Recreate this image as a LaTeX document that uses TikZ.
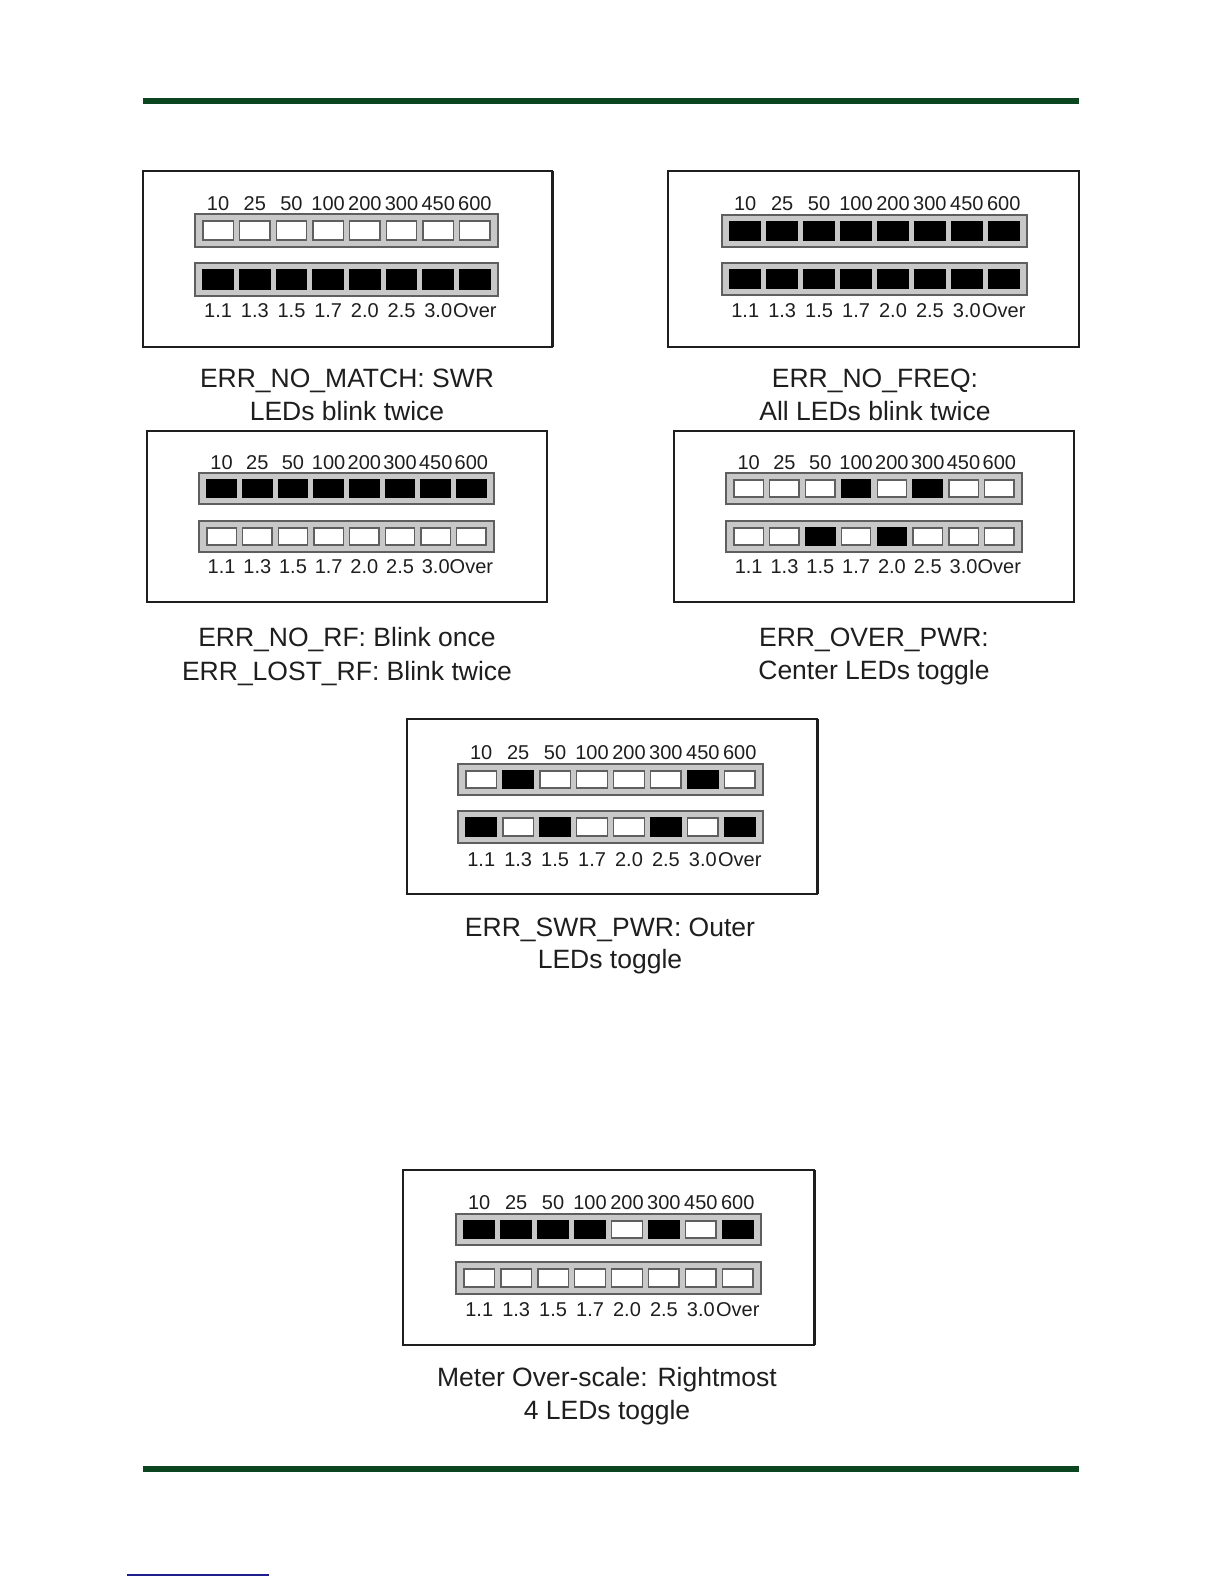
\documentclass[tikz,border=0pt]{standalone}
\usepackage{fontspec}
\setmainfont{Liberation Sans}
\definecolor{hdrgreen}{RGB}{12,70,33}
\definecolor{linkblue}{RGB}{30,30,140}
\definecolor{stripgray}{RGB}{200,200,200}
\definecolor{edgegray}{RGB}{95,95,95}
\definecolor{inkgray}{RGB}{30,30,30}
\tikzset{
  panelbox/.style={draw=inkgray, line width=1.5pt, fill=white, inner sep=0pt, outer sep=0pt},
  shadowedge/.style={draw=inkgray, line width=3pt},
  stripbox/.style={draw=edgegray, fill=stripgray, line width=1.5pt, inner sep=0pt, outer sep=0pt},
  ledbox/.style={draw=edgegray, line width=1.3pt, inner sep=0pt, outer sep=0pt},
  ledstate/.code={\ifnum#1=1 \pgfkeysalso{fill=black,draw=black}\else\pgfkeysalso{fill=white}\fi},
  scalelab/.style={font=\fontsize{20}{22}\selectfont, inner sep=0pt, anchor=base, text=inkgray},
  captext/.style={font=\fontsize{26.5}{32}\selectfont, inner sep=0pt, anchor=base, text=inkgray},
  hdrrule/.style={draw=hdrgreen, line width=6pt},
  linkrule/.style={draw=linkblue, line width=1.5pt}
}
\newcommand\panelframe[5]{%
  \node[panelbox, minimum width={#4-#2}, minimum height={#5-#3}] (#1) at ({(#2+#4)/2},{(#3+#5)/2}) {};
}
\newcommand\ledstrip[6]{%
  \pgfmathsetmacro\ledpitch{(#3-#2-9.5)/8}
  \pgfmathsetmacro\ledw{\ledpitch-6.5}
  \pgfmathsetmacro\ledh{#5-#4-14}
  \node[stripbox, minimum width={#3-#2}, minimum height={#5-#4}] (#1) at ({(#2+#3)/2},{(#4+#5)/2}) {};
  \foreach \s [count=\i] in {#6} {
    \node[ledbox, ledstate=\s, minimum width=\ledw, minimum height=\ledh] (#1\i) at ({#2+8+(\i-1)*\ledpitch+\ledw/2},{(#4+#5)/2}) {};
  }
}
\newcommand\toplabels[2]{%
  \foreach \t [count=\i] in {10,25,50,100,200,300,450,600} {
    \node[scalelab] (#1lab\i) at (#1\i |- 0,#2) {\t};
  }
}
\newcommand\botlabels[2]{%
  \foreach \t [count=\i] in {1.1,1.3,1.5,1.7,2.0,2.5,3.0,Over} {
    \node[scalelab] (#1lab\i) at (#1\i |- 0,#2) {\t};
  }
}
\begin{document}
\begin{tikzpicture}[x=1pt,y=-1pt]
\useasboundingbox (0,0) rectangle (1224,1584);
\fill[white] (0,0) rectangle (1224,1584);

% header / footer rules
\coordinate (hdrL) at (143,101);
\coordinate (hdrR) at (1079,101);
\draw[hdrrule] (hdrL) -- (hdrR);
\coordinate (ftrL) at (143,1469);
\coordinate (ftrR) at (1079,1469);
\draw[hdrrule] (ftrL) -- (ftrR);
\coordinate (lnkL) at (127,1575);
\coordinate (lnkR) at (269,1575);
\draw[linkrule] (lnkL) -- (lnkR);

% Panel 1
\panelframe{pa}{143}{171}{552}{347}
\draw[shadowedge] (pa.north east) -- (pa.south east);
\ledstrip{pat}{195}{498}{214}{247}{0,0,0,0,0,0,0,0}
\ledstrip{pab}{195}{498}{263}{296}{1,1,1,1,1,1,1,1}
\toplabels{pat}{210}
\botlabels{pab}{317}
\node[captext] (pac1) at (347,387) {ERR\_NO\_MATCH: SWR};
\node[captext] (pac2) at (347,420) {LEDs blink twice};

% Panel 2
\panelframe{pb}{668}{171}{1079}{347}
\ledstrip{pbt}{722}{1027}{215}{247}{1,1,1,1,1,1,1,1}
\ledstrip{pbb}{722}{1027}{263}{295}{1,1,1,1,1,1,1,1}
\toplabels{pbt}{210}
\botlabels{pbb}{317}
\node[captext] (pbc1) at (875,387) {ERR\_NO\_FREQ:};
\node[captext] (pbc2) at (875,420) {All LEDs blink twice};

% Panel 3
\panelframe{pc}{147}{431}{547}{602}
\ledstrip{pct}{199}{494}{473}{504}{1,1,1,1,1,1,1,1}
\ledstrip{pcb}{199}{494}{521}{552}{0,0,0,0,0,0,0,0}
\toplabels{pct}{469}
\botlabels{pcb}{573}
\node[captext] (pcc1) at (347,646) {ERR\_NO\_RF: Blink once};
\node[captext] (pcc2) at (347,680) {ERR\_LOST\_RF: Blink twice};

% Panel 4
\panelframe{pd}{674}{431}{1074}{602}
\ledstrip{pdt}{726}{1022}{473}{504}{0,0,0,1,0,1,0,0}
\ledstrip{pdb}{726}{1022}{521}{552}{0,0,1,0,1,0,0,0}
\toplabels{pdt}{469}
\botlabels{pdb}{573}
\node[captext] (pdc1) at (874,646) {ERR\_OVER\_PWR:};
\node[captext] (pdc2) at (874,679) {Center LEDs toggle};

% Panel 5
\panelframe{pe}{407}{719}{817}{894}
\draw[shadowedge] (pe.north east) -- (pe.south east);
\ledstrip{pet}{458}{763}{764}{795}{0,1,0,0,0,0,1,0}
\ledstrip{peb}{458}{763}{811}{843}{1,0,1,0,0,1,0,1}
\toplabels{pet}{759}
\botlabels{peb}{866}
\node[captext] (pec1) at (610,936) {ERR\_SWR\_PWR: Outer};
\node[captext] (pec2) at (610,968) {LEDs toggle};

% Panel 6
\panelframe{pf}{403}{1170}{814}{1345}
\draw[shadowedge] (pf.north east) -- (pf.south east);
\ledstrip{pft}{456}{761}{1214}{1245}{1,1,1,1,0,1,0,1}
\ledstrip{pfb}{456}{761}{1262}{1294}{0,0,0,0,0,0,0,0}
\toplabels{pft}{1209}
\botlabels{pfb}{1316}
\node[captext] (pfc1) at (607,1386) {Meter Over-scale: Rightmost};
\node[captext] (pfc2) at (607,1419) {4 LEDs toggle};
\end{tikzpicture}
\end{document}
